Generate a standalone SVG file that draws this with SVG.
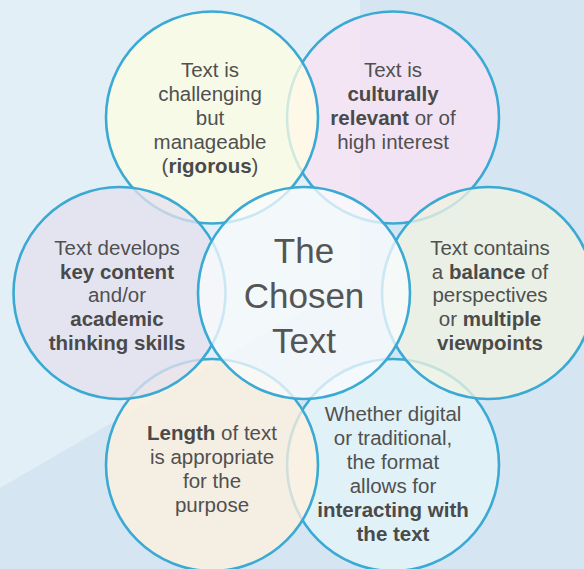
<svg xmlns="http://www.w3.org/2000/svg" width="584" height="569" viewBox="0 0 584 569">
<style>
.c{stroke:#3aa9d3;stroke-width:2.6;fill-opacity:0.76}
.t{font-family:"Liberation Sans",Arial,sans-serif;font-size:20.5px;fill:#505050;text-anchor:middle}
.b{font-weight:700;fill:#4a4a4a}
.big{font-family:"Liberation Sans",Arial,sans-serif;font-size:35px;fill:#555555;text-anchor:middle}
</style>
<rect x="0" y="0" width="584" height="569" fill="#d5e6f2"/>
<polygon points="0,0 360,0 360,278 0,488" fill="#e2eff7"/>
<g id="node-culturally-relevant">
<circle class="c" cx="393" cy="117.5" r="106" fill="#fae2f3"/>
<text class="t" x="393" y="77">Text is</text>
<text class="t" x="393" y="101"><tspan class="b">culturally</tspan></text>
<text class="t" x="393" y="125"><tspan class="b">relevant</tspan> or of</text>
<text class="t" x="393" y="149">high interest</text>
</g>
<g id="node-challenging">
<circle class="c" cx="212" cy="117.5" r="106" fill="#fffee4"/>
<text class="t" x="210" y="77">Text is</text>
<text class="t" x="210" y="101">challenging</text>
<text class="t" x="210" y="125">but</text>
<text class="t" x="210" y="149">manageable</text>
<text class="t" x="210" y="173">(<tspan class="b">rigorous</tspan>)</text>
</g>
<g id="node-format">
<circle class="c" cx="393" cy="465" r="106" fill="#e4f5fa"/>
<text class="t" x="393" y="421">Whether digital</text>
<text class="t" x="393" y="445">or traditional,</text>
<text class="t" x="393" y="469">the format</text>
<text class="t" x="393" y="493">allows for</text>
<text class="t" x="393" y="517"><tspan class="b">interacting with</tspan></text>
<text class="t" x="393" y="541"><tspan class="b">the text</tspan></text>
</g>
<g id="node-length">
<circle class="c" cx="212" cy="465" r="106" fill="#fff0dd"/>
<text class="t" x="212" y="440"><tspan class="b">Length</tspan> of text</text>
<text class="t" x="212" y="464">is appropriate</text>
<text class="t" x="212" y="488">for the</text>
<text class="t" x="212" y="512">purpose</text>
</g>
<g id="node-key-content">
<circle class="c" cx="119.5" cy="293" r="106" fill="#e5e1ee"/>
<text class="t" x="117" y="255">Text develops</text>
<text class="t" x="117" y="279"><tspan class="b">key content</tspan></text>
<text class="t" x="117" y="302">and/or</text>
<text class="t" x="117" y="326"><tspan class="b">academic</tspan></text>
<text class="t" x="117" y="350"><tspan class="b">thinking skills</tspan></text>
</g>
<g id="node-balance">
<circle class="c" cx="488" cy="293" r="106" fill="#f0f3e1"/>
<text class="t" x="490" y="255">Text contains</text>
<text class="t" x="490" y="279">a <tspan class="b">balance</tspan> of</text>
<text class="t" x="490" y="302">perspectives</text>
<text class="t" x="490" y="326">or <tspan class="b">multiple</tspan></text>
<text class="t" x="490" y="350"><tspan class="b">viewpoints</tspan></text>
</g>
<g id="node-center">
<circle class="c" cx="304" cy="293" r="106" fill="#f8fbfd"/>
<text class="big" x="304" y="263">The</text>
<text class="big" x="304" y="308">Chosen</text>
<text class="big" x="304" y="353">Text</text>
</g>
<g id="connectors"/>
</svg>
